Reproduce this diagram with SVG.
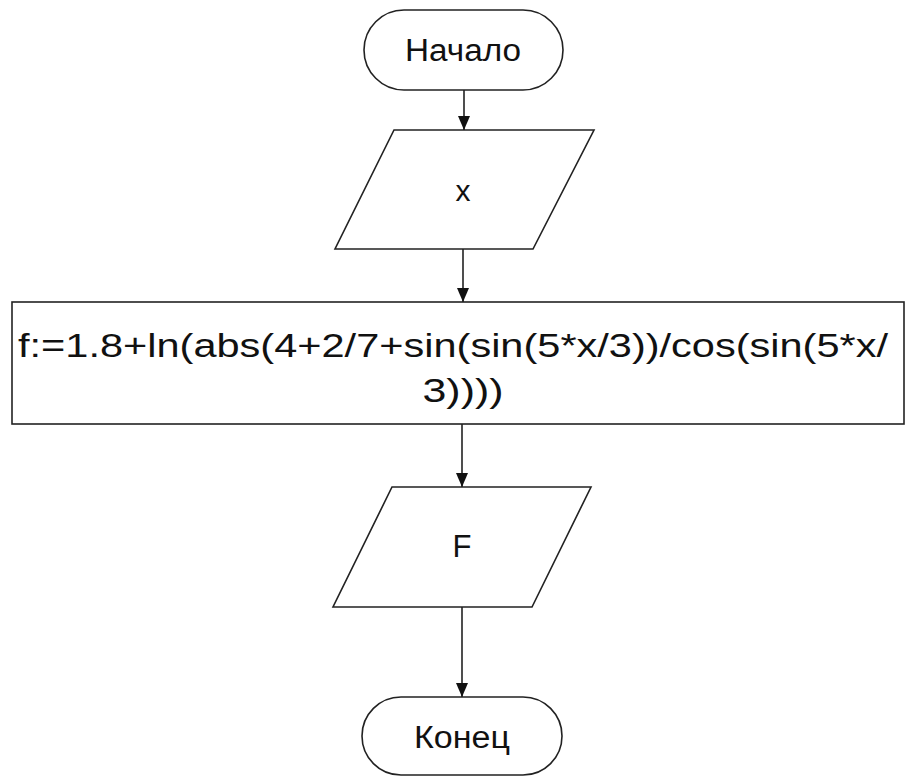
<svg xmlns="http://www.w3.org/2000/svg" width="908" height="777" viewBox="0 0 908 777">
<style>
.shape{fill:#fff;stroke:#222;stroke-width:1.6}
.lbl{font-family:"Liberation Sans",Arial,sans-serif;fill:#111;text-anchor:middle}
.conn{stroke:#222;stroke-width:1.6;fill:none}
</style>
<defs>
<marker id="arr" viewBox="0 0 14 12" refX="14" refY="6" markerWidth="14" markerHeight="12" markerUnits="userSpaceOnUse" orient="auto">
<path d="M0,0 L14,6 L0,12 Z" fill="#111"/>
</marker>
</defs>
<rect width="908" height="777" fill="#fff"/>
<g id="start">
<rect class="shape" x="364" y="10" width="199" height="80" rx="40" ry="40"/>
<text class="lbl" x="463" y="61" font-size="31" textLength="116" lengthAdjust="spacingAndGlyphs">Начало</text>
</g>
<g id="input">
<polygon class="shape" points="394,130 594,130 533,249 335,249"/>
<text class="lbl" x="463" y="201" font-size="30">x</text>
</g>
<g id="process">
<rect class="shape" x="12" y="302" width="892" height="122"/>
<text class="lbl" x="453" y="357" font-size="34" textLength="870" lengthAdjust="spacingAndGlyphs">f:=1.8+ln(abs(4+2/7+sin(sin(5*x/3))/cos(sin(5*x/</text>
<text class="lbl" x="463" y="402" font-size="34" textLength="81" lengthAdjust="spacingAndGlyphs">3))))</text>
</g>
<g id="output">
<polygon class="shape" points="392,487 591,487 532,607 333,607"/>
<text class="lbl" x="462" y="557" font-size="31">F</text>
</g>
<g id="end">
<rect class="shape" x="362" y="697" width="200" height="78" rx="39" ry="39"/>
<text class="lbl" x="462" y="748" font-size="31" textLength="96" lengthAdjust="spacingAndGlyphs">Конец</text>
</g>
<g id="connectors">
<line class="conn" x1="464" y1="90" x2="464" y2="130" marker-end="url(#arr)"/>
<line class="conn" x1="463" y1="249" x2="463" y2="302" marker-end="url(#arr)"/>
<line class="conn" x1="462" y1="424" x2="462" y2="487" marker-end="url(#arr)"/>
<line class="conn" x1="462" y1="607" x2="462" y2="697" marker-end="url(#arr)"/>
</g>
</svg>
